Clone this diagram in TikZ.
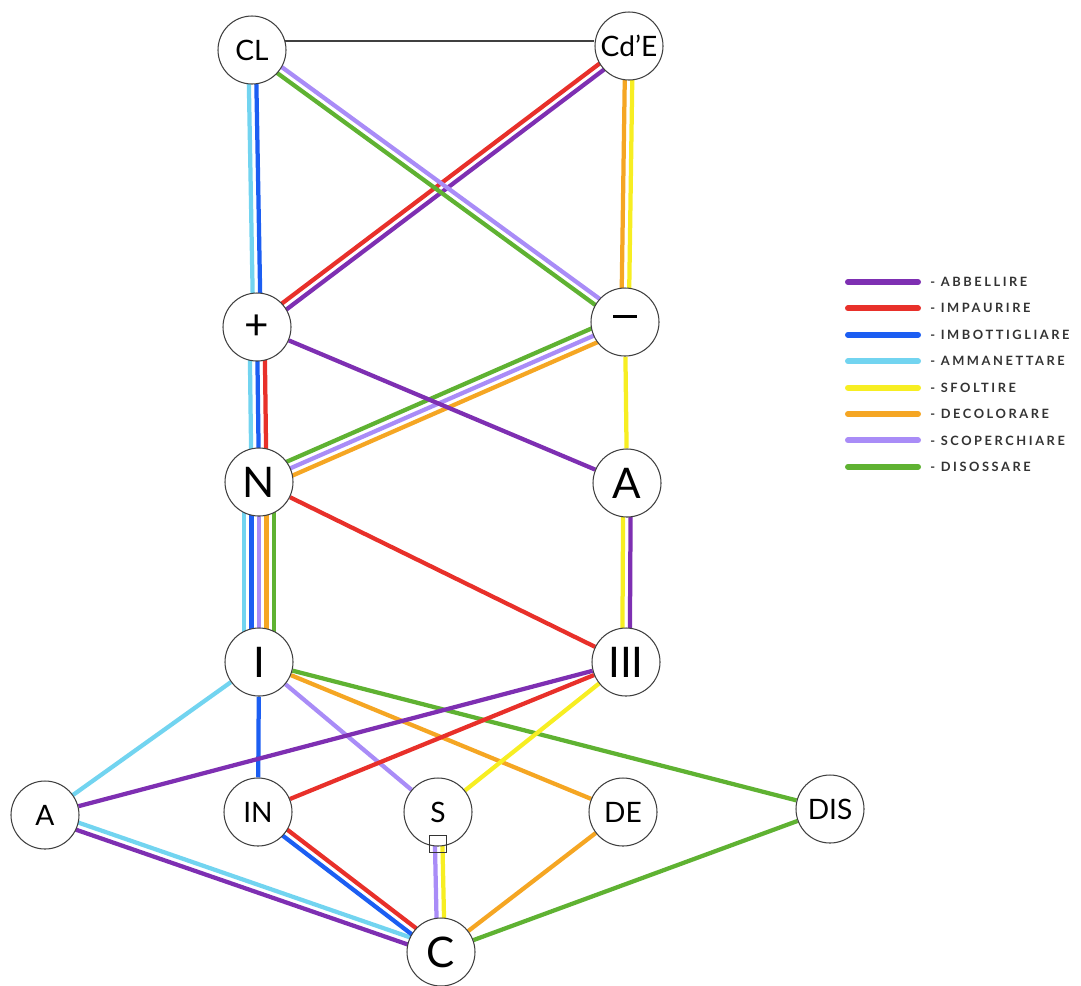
\documentclass[tikz,border=0pt]{standalone}
\usepackage{fontspec}
\setmainfont{Lato}
\newfontfamily\legendfont[LetterSpace=20]{Lato}
\usetikzlibrary{calc,backgrounds}
\definecolor{colAbb}{HTML}{7E2FB2}
\definecolor{colImp}{HTML}{E8302A}
\definecolor{colImb}{HTML}{1C5EF2}
\definecolor{colAmm}{HTML}{72D4F0}
\definecolor{colSfo}{HTML}{F7EE22}
\definecolor{colDec}{HTML}{F5A623}
\definecolor{colSco}{HTML}{A98CF7}
\definecolor{colDis}{HTML}{5FB232}
\tikzset{
  state/.style={circle, draw=black!75, line width=0.6pt, fill=white, minimum size=13.6mm, inner sep=0pt, font=\fontsize{24}{28}\selectfont},
  smallstate/.style={state, font=\fontsize{16}{19}\selectfont},
  verb/.style={line width=0.85mm},
  abbellire/.style={verb, draw=colAbb},
  impaurire/.style={verb, draw=colImp},
  imbottigliare/.style={verb, draw=colImb},
  ammanettare/.style={verb, draw=colAmm},
  sfoltire/.style={verb, draw=colSfo},
  decolorare/.style={verb, draw=colDec},
  scoperchiare/.style={verb, draw=colSco},
  disossare/.style={verb, draw=colDis},
  plain/.style={draw=black!75, line width=0.8pt},
  legendtext/.style={anchor=west, text=black!80, inner sep=0pt, font=\legendfont\bfseries\fontsize{7.3}{8}\selectfont}
}
% parallel strands between two nodes: list of style/offset
\newcommand{\strands}[3]{\foreach \s/\o in {#3} {\draw[\s] ($(#1)!\o*1.5mm!90:(#2)$) -- ($(#2)!\o*1.5mm!-90:(#1)$);}}
\begin{document}
\begin{tikzpicture}[x=0.2mm, y=-0.2mm]
\useasboundingbox (0,0) rectangle (1081,985);
% states
\node[smallstate] (CL) at (252,50) {CL};
\node[smallstate] (CdE) at (629,46) {Cd'E};
\node[state] (plus) at (257,327) {+};
\node[state] (minus) at (625,322) {\rule[0.27em]{0.55em}{0.07em}};
\node[state] (N) at (259,482) {N};
\node[state] (Ar) at (627,483) {A};
\node[state] (I) at (259,662) {I};
\node[state] (III) at (626,662) {III};
\node[smallstate] (Al) at (45,815) {A};
\node[smallstate] (IN) at (258,812) {IN};
\node[smallstate] (S) at (438,812) {S};
\node[smallstate] (DE) at (623,812) {DE};
\node[smallstate] (DIS) at (830,809) {DIS};
\node[state] (C) at (441,952) {C};
\node[draw=black!80, line width=0.5pt, minimum size=3.4mm, inner sep=0pt] (Sbox) at (438,844) {};
% verbs
\begin{scope}[on background layer]
\draw[plain] (CL.15) -- (CL.15 -| CdE.west);
\strands{CL}{plus}{ammanettare/-0.5, imbottigliare/0.5}
\strands{CdE}{plus}{impaurire/-0.5, abbellire/0.5}
\strands{CL}{minus}{disossare/-0.5, scoperchiare/0.5}
\strands{CdE}{minus}{decolorare/-0.5, sfoltire/0.5}
\strands{plus}{N}{ammanettare/-1, imbottigliare/0, impaurire/1}
\strands{minus}{N}{disossare/-1, scoperchiare/0, decolorare/1}
\draw[abbellire] (plus) -- (Ar);
\draw[sfoltire] (minus) -- (Ar);
\strands{N}{I}{ammanettare/-2, imbottigliare/-1, scoperchiare/0, decolorare/1, disossare/2}
\draw[impaurire] (N) -- (III);
\strands{Ar}{III}{sfoltire/-0.5, abbellire/0.5}
\draw[ammanettare] (I) -- (Al);
\draw[imbottigliare] (I) -- (IN);
\draw[scoperchiare] (I) -- (S);
\draw[decolorare] (I) -- (DE);
\draw[disossare] (I) -- (DIS);
\draw[abbellire] (III) -- (Al);
\draw[impaurire] (III) -- (IN);
\draw[sfoltire] (III) -- (S);
\strands{Al}{C}{abbellire/-0.5, ammanettare/0.5}
\strands{IN}{C}{imbottigliare/-0.5, impaurire/0.5}
\strands{S}{C}{scoperchiare/-0.5, sfoltire/0.5}
\draw[decolorare] (DE) -- (C);
\draw[disossare] (DIS) -- (C);
\end{scope}
% legend
\foreach \s/\t [count=\i] in {abbellire/ABBELLIRE, impaurire/IMPAURIRE, imbottigliare/IMBOTTIGLIARE, ammanettare/AMMANETTARE, sfoltire/SFOLTIRE, decolorare/DECOLORARE, scoperchiare/SCOPERCHIARE, disossare/DISOSSARE} {
  \coordinate (lg\i) at (848, 282+26.4*\i-26.4);
  \draw[\s, line width=1.2mm, line cap=round] (lg\i) -- ++(70,0);
  \node[legendtext] (lt\i) at (930, 282+26.4*\i-26.4) {- \t};
}
\end{tikzpicture}
\end{document}
